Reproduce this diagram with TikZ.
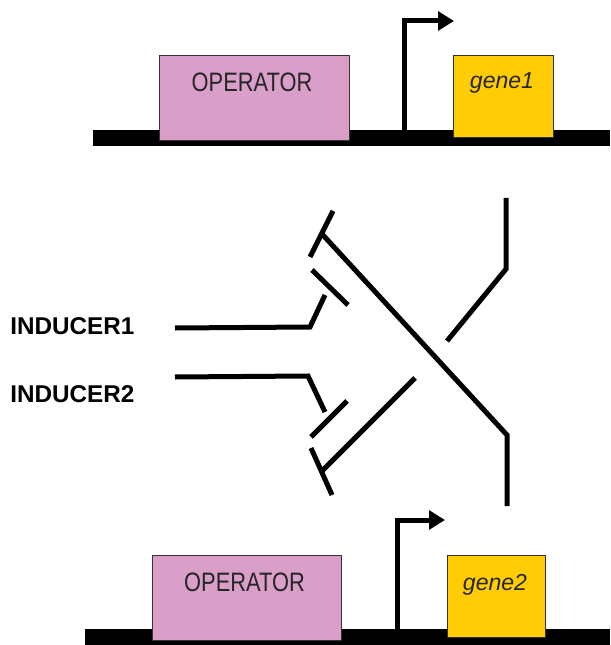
\documentclass[tikz,border=0pt]{standalone}
\usepackage{fontspec}
\setmainfont{Liberation Sans}
\usetikzlibrary{arrows.meta}
\definecolor{oppink}{HTML}{DA9FC9}
\definecolor{genegold}{HTML}{FFCC05}
\begin{document}
\begin{tikzpicture}[x=0.75pt,y=-0.75pt,
  dna/.style={fill=black,draw=none},
  opbox/.style={draw=black!80,line width=0.6pt,fill=oppink,minimum width=#1*0.75pt,inner sep=0pt},
  genebox/.style={draw=black!80,line width=0.6pt,fill=genegold,inner sep=0pt},
  optext/.style={font=\fontsize{20pt}{22pt}\selectfont,inner sep=0pt,text=black!85},
  genetext/.style={font=\fontsize{17.3pt}{19pt}\selectfont\itshape,inner sep=0pt,text=black!85},
  indtext/.style={font=\fontsize{18.2pt}{20pt}\selectfont\bfseries,inner sep=0pt,anchor=west},
  wire/.style={line width=3.75pt},
  prom/.style={line width=3.75pt,-{Triangle[length=12pt,width=14pt]}}
]
\useasboundingbox (0,0) rectangle (610,645);
% DNA bars
\fill[dna] (93,130) rectangle (610,146);
\fill[dna] (85,629) rectangle (610,645);
% top boxes
\node[opbox=190,minimum height=63.75pt] (op1) at (254,97.5) {};
\node[optext] (op1t) at (252,82) {\scalebox{0.82}[1]{OPERATOR}};
\node[genebox,minimum width=75pt,minimum height=61.5pt] (g1) at (503,96) {};
\node[genetext] (g1t) at (502,83) {gene1};
% bottom boxes
\node[opbox=189,minimum height=63.75pt] (op2) at (246.5,597.5) {};
\node[optext] (op2t) at (244.5,582) {\scalebox{0.82}[1]{OPERATOR}};
\node[genebox,minimum width=73.5pt,minimum height=61.5pt] (g2) at (496,596) {};
\node[genetext] (g2t) at (495,585) {gene2};
% promoters
\coordinate (p1a) at (404,131);
\coordinate (p1b) at (404,21);
\coordinate (p1c) at (454,21);
\draw[prom] (p1a) -- (p1b) -- (p1c);
\coordinate (p2a) at (397,630);
\coordinate (p2b) at (397,520);
\coordinate (p2c) at (445,520);
\draw[prom] (p2a) -- (p2b) -- (p2c);
% inducer labels
\node[indtext] (i1) at (10,326) {INDUCER1};
\node[indtext] (i2) at (10,394) {INDUCER2};
% inducer wires
\coordinate (i1s) at (175,328);
\coordinate (i1k) at (310,327);
\coordinate (i1e) at (325,295);
\draw[wire] (i1s) -- (i1k) -- (i1e);
\coordinate (i2s) at (175,377);
\coordinate (i2k) at (308,376);
\coordinate (i2e) at (325,412);
\draw[wire] (i2s) -- (i2k) -- (i2e);
% repressor bars
\coordinate (b1a) at (312,270);
\coordinate (b1b) at (348,305);
\draw[wire] (b1a) -- (b1b);
\coordinate (b2a) at (347,401);
\coordinate (b2b) at (311,437);
\draw[wire] (b2a) -- (b2b);
% T-bars
\coordinate (t1a) at (333,211);
\coordinate (t1b) at (310,257);
\draw[wire] (t1a) -- (t1b);
\coordinate (t2a) at (311,448);
\coordinate (t2b) at (332,495);
\draw[wire] (t2a) -- (t2b);
% big diagonal
\coordinate (d1a) at (322,234);
\coordinate (d1b) at (507,435);
\coordinate (d1c) at (507,506);
\draw[wire] (d1a) -- (d1b) -- (d1c);
% other diagonal
\coordinate (d2a) at (506,198);
\coordinate (d2b) at (506,269);
\coordinate (d2c) at (447,341);
\draw[wire] (d2a) -- (d2b) -- (d2c);
\coordinate (d3a) at (415,378);
\coordinate (d3b) at (322,471);
\draw[wire] (d3a) -- (d3b);
\end{tikzpicture}
\end{document}
